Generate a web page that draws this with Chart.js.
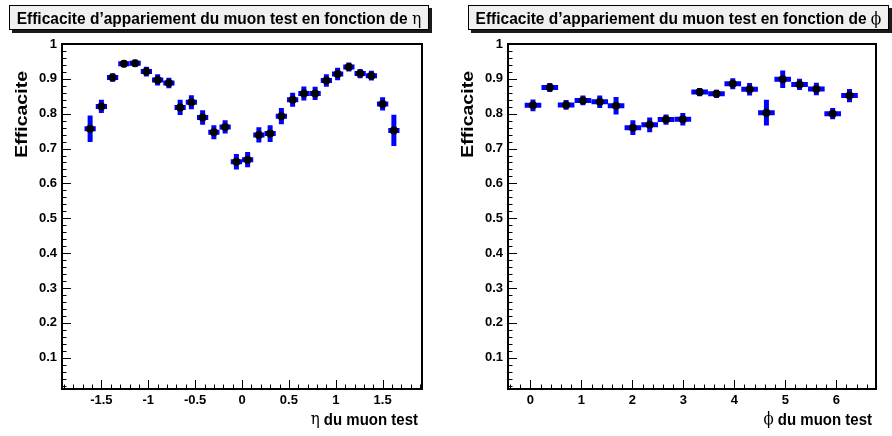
<!DOCTYPE html>
<html>
<head>
<meta charset="utf-8">
<script src="https://cdn.jsdelivr.net/npm/chart.js@4.4.0/dist/chart.umd.min.js"></script>
<style>
  body { margin: 0; background: #fff; }
  #wrap { position: relative; width: 892px; height: 436px; overflow: hidden; }
  .panel { position: absolute; top: 0; width: 446px; height: 436px; }
  .title-box {
    position: absolute; top: 5px; height: 25px; box-sizing: border-box;
    background: #f0f0f0; border: 1px solid #000; box-shadow: 3px 3px 0 #1a1a1a;
    font: bold 15.5px "Liberation Sans", Arial, sans-serif; line-height: 23px;
    text-align: center; white-space: nowrap; color: #000; z-index: 2;
  }
  .title-box .txt { display: inline-block; transform: scaleY(1.12); }
  .title-box .sym { font-weight: normal; font-family: "DejaVu Serif", serif; }
</style>
</head>
<body>
<div id="wrap">
  <div class="panel" style="left:0">
    <canvas id="eta-chart" width="446" height="436"></canvas>
  </div>
  <div class="panel" style="left:446px">
    <canvas id="phi-chart" width="446" height="436"></canvas>
  </div>
  <div class="title-box" style="left:9px; width:420px;"><span class="txt">Efficacite d’appariement du muon test en fonction de <span class="sym">η</span></span></div>
  <div class="title-box" style="left:468px; width:421px;"><span class="txt">Efficacite d’appariement du muon test en fonction de <span class="sym">ϕ</span></span></div>
</div>

<script>
// efficacite vs eta (bins of 0.12)
const etaCenters = [-1.62, -1.50, -1.38, -1.26, -1.14, -1.02, -0.90, -0.78, -0.66, -0.54,
  -0.42, -0.30, -0.18, -0.06, 0.06, 0.18, 0.30, 0.42, 0.54, 0.66,
  0.78, 0.90, 1.02, 1.14, 1.26, 1.38, 1.50, 1.62];
const etaEff = [0.757, 0.821, 0.904, 0.943, 0.945, 0.921, 0.897, 0.888, 0.818, 0.833,
  0.789, 0.747, 0.762, 0.662, 0.668, 0.739, 0.743, 0.793, 0.840, 0.858,
  0.858, 0.895, 0.914, 0.934, 0.915, 0.909, 0.828, 0.752];
const etaErr = [0.038, 0.019, 0.012, 0.010, 0.010, 0.014, 0.016, 0.015, 0.022, 0.020,
  0.021, 0.020, 0.019, 0.022, 0.022, 0.022, 0.024, 0.023, 0.020, 0.020,
  0.019, 0.018, 0.018, 0.013, 0.013, 0.014, 0.019, 0.045];
const etaHalfBin = 0.06;
const etaTicks = [-1.5, -1, -0.5, 0, 0.5, 1, 1.5];

// efficacite vs phi
const phiCenters = [0.05, 0.38, 0.70, 1.03, 1.36, 1.68, 2.01, 2.34, 2.66, 2.99,
  3.32, 3.65, 3.97, 4.30, 4.63, 4.95, 5.28, 5.61, 5.93, 6.26];
const phiEff = [0.824, 0.875, 0.825, 0.838, 0.834, 0.823, 0.760, 0.768, 0.783, 0.784,
  0.862, 0.857, 0.886, 0.870, 0.803, 0.899, 0.884, 0.871, 0.800, 0.852];
const phiErr = [0.017, 0.013, 0.014, 0.014, 0.018, 0.025, 0.021, 0.021, 0.015, 0.018,
  0.012, 0.012, 0.016, 0.018, 0.037, 0.025, 0.016, 0.018, 0.016, 0.019];
const phiHalfBin = 0.163;
const phiTicks = [0, 1, 2, 3, 4, 5, 6];

const yTicks = [0.1, 0.2, 0.3, 0.4, 0.5, 0.6, 0.7, 0.8, 0.9, 1];

const FONT = '"Liberation Sans", Arial, sans-serif';

// blue error crosses under the markers
const errorBars = {
  id: 'errorBars',
  beforeDatasetsDraw(chart, args, opts) {
    const { ctx } = chart;
    const xs = chart.scales.x, ys = chart.scales.y;
    ctx.save();
    ctx.strokeStyle = '#0000ff';
    ctx.lineWidth = 5;
    ctx.lineCap = 'butt';
    chart.data.datasets[0].data.forEach((p, i) => {
      const px = xs.getPixelForValue(p.x), py = ys.getPixelForValue(p.y);
      const e = opts.err[i];
      ctx.beginPath();
      ctx.moveTo(xs.getPixelForValue(p.x - opts.half), py);
      ctx.lineTo(xs.getPixelForValue(p.x + opts.half), py);
      ctx.moveTo(px, ys.getPixelForValue(p.y - e));
      ctx.lineTo(px, ys.getPixelForValue(p.y + e));
      ctx.stroke();
    });
    ctx.restore();
  }
};

// ROOT-like frame with inward ticks + axis titles
const rootFrame = {
  id: 'rootFrame',
  afterDraw(chart, args, opts) {
    const { ctx, chartArea: a } = chart;
    const xs = chart.scales.x, ys = chart.scales.y;
    ctx.save();
    ctx.strokeStyle = '#000';
    ctx.lineWidth = 1;
    const drawTicks = (scale, majors, horiz) => {
      const minor = (majors[1] - majors[0]) / 5;
      ctx.beginPath();
      for (let k = -10; k <= (majors.length - 1) * 5 + 10; k++) {
        const v = majors[0] + k * minor;
        if (v < scale.min - 1e-9 || v > scale.max + 1e-9) continue;
        const len = (k % 5 === 0) ? 9 : 4.5;
        const p = Math.round(scale.getPixelForValue(v)) + 0.5;
        if (horiz) { ctx.moveTo(p, a.bottom); ctx.lineTo(p, a.bottom - len); }
        else { ctx.moveTo(a.left, p); ctx.lineTo(a.left + len, p); }
      }
      ctx.stroke();
    };
    drawTicks(xs, opts.xTicks, true);
    drawTicks(ys, yTicks, false);
    ctx.lineWidth = 2;
    ctx.strokeRect(a.left, a.top, a.right - a.left, a.bottom - a.top);

    ctx.fillStyle = '#000';
    ctx.textBaseline = 'middle';

    // y title, stretched a bit along its length like the reference
    ctx.save();
    ctx.font = 'bold 16px ' + FONT;
    ctx.translate(opts.yTitleX, opts.yTitleTop);
    ctx.rotate(-Math.PI / 2);
    ctx.scale(1.22, 1);
    ctx.textAlign = 'right';
    ctx.fillText('Efficacite', 0, 0);
    ctx.restore();

    // x title: greek symbol in plain serif, rest in bold
    ctx.save();
    ctx.translate(a.right - 4, 420);
    ctx.scale(1, 1.12);
    ctx.textAlign = 'right';
    ctx.font = 'bold 15px ' + FONT;
    const rest = ' du muon test';
    ctx.fillText(rest, 0, 0);
    const w = ctx.measureText(rest).width;
    ctx.font = '15px "DejaVu Serif", serif';
    ctx.fillText(opts.xSym, -w, 0);
    ctx.restore();

    ctx.restore();
  }
};

function makeChart(id, centers, eff, err, half, xTicks, xMin, xMax, xSym, rightPad) {
  const ctx = document.getElementById(id).getContext('2d');
  return new Chart(ctx, {
    type: 'scatter',
    data: {
      datasets: [{
        data: centers.map((c, i) => ({ x: c, y: eff[i] })),
        pointRadius: 4,
        pointBackgroundColor: '#000',
        pointBorderWidth: 0,
        showLine: false
      }]
    },
    options: {
      responsive: false,
      animation: false,
      layout: { padding: { top: 44, right: rightPad, left: 0, bottom: 0 } },
      plugins: {
        legend: { display: false },
        tooltip: { enabled: false },
        errorBars: { err: err, half: half },
        rootFrame: { xTicks: xTicks, xSym: xSym, yTitleX: 23, yTitleTop: 71 }
      },
      scales: {
        x: {
          type: 'linear', min: xMin, max: xMax,
          grid: { display: false, drawTicks: false },
          border: { display: false },
          afterBuildTicks: s => { s.ticks = xTicks.map(v => ({ value: v })); },
          afterFit: s => { s.height = 47; },
          ticks: {
            color: '#000', padding: 4, maxRotation: 0, autoSkip: false,
            font: { family: FONT, size: 13, weight: 'bold' },
            callback: v => String(v)
          }
        },
        y: {
          type: 'linear', min: 0.01, max: 1,
          grid: { display: false, drawTicks: false },
          border: { display: false },
          afterBuildTicks: s => { s.ticks = yTicks.map(v => ({ value: v })); },
          afterFit: s => { s.width = 62; },
          ticks: {
            color: '#000', padding: 5, autoSkip: false,
            font: { family: FONT, size: 13, weight: 'bold' },
            callback: v => String(Math.round(v * 10) / 10)
          }
        }
      }
    },
    plugins: [errorBars, rootFrame]
  });
}

makeChart('eta-chart', etaCenters, etaEff, etaErr, etaHalfBin, etaTicks, -1.92, 1.92, 'η', 24);
makeChart('phi-chart', phiCenters, phiEff, phiErr, phiHalfBin, phiTicks, -0.44, 6.78, 'ϕ', 16);
</script>
</body>
</html>
